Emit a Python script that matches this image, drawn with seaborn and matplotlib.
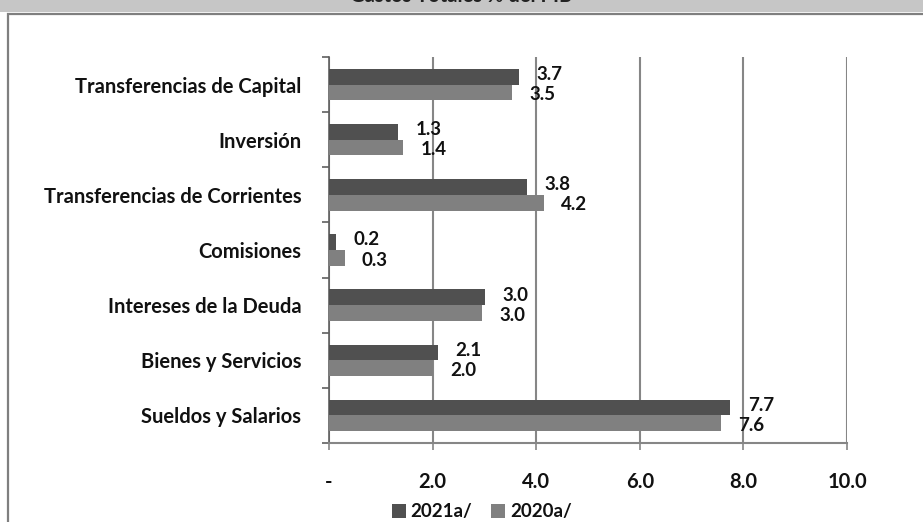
import matplotlib
matplotlib.use("Agg")
import matplotlib.pyplot as plt
import seaborn as sns
import pandas as pd
from matplotlib.patches import Rectangle

categories = ["Transferencias de Capital", "Inversión", "Transferencias de Corrientes",
              "Comisiones", "Intereses de la Deuda", "Bienes y Servicios", "Sueldos y Salarios"]
series_names = ["2021a/", "2020a/"]
values_2021 = [3.67, 1.33, 3.83, 0.14, 3.02, 2.10, 7.75]
values_2020 = [3.54, 1.43, 4.15, 0.30, 2.95, 2.01, 7.56]
labels_2021 = ["3.7", "1.3", "3.8", "0.2", "3.0", "2.1", "7.7"]
labels_2020 = ["3.5", "1.4", "4.2", "0.3", "3.0", "2.0", "7.6"]
x_ticks = [0, 2, 4, 6, 8, 10]
x_tick_labels = ["-", "2.0", "4.0", "6.0", "8.0", "10.0"]
title = "Gastos Totales % del PIB"

df = pd.DataFrame({
    "categoria": categories * 2,
    "serie": [series_names[0]] * len(categories) + [series_names[1]] * len(categories),
    "valor": values_2021 + values_2020,
})

sns.set_theme(style="white")
FONT = ["Lato", "DejaVu Sans"]
plt.rcParams["font.family"] = FONT
FS = 14.5

W, H = 923, 522
fig = plt.figure(figsize=(W / 100, H / 100), dpi=100)
fig.patch.set_facecolor("white")

# Title bar (title text is cut by the top edge, as in the source) and frame
fig.patches.append(Rectangle((0, 1 - 12 / H), 1, 12 / H, transform=fig.transFigure,
                             facecolor="#c6c6c6", edgecolor="none", zorder=0))
fig.text(0.5, 1 + 4 / H, title, ha="center", va="center", fontsize=FS, fontweight="bold",
         color="#222222")
fig.patches.append(Rectangle((8 / W, -0.1), 1.2, 1.1 - 14 / H, transform=fig.transFigure,
                             facecolor="none", edgecolor="#7f7f7f", linewidth=1.6, zorder=1))

ax = fig.add_axes([329 / W, 1 - 443 / H, (847 - 329) / W, (443 - 57) / H])
palette = {series_names[0]: "#505050", series_names[1]: "#808080"}
sns.barplot(data=df, y="categoria", x="valor", hue="serie", order=categories,
            hue_order=series_names, palette=palette, orient="h", width=0.57,
            saturation=1, ax=ax, zorder=3, edgecolor="none")

ax.set_xlim(0, 10)
ax.set_xticks(x_ticks)
ax.set_xticklabels(x_tick_labels, fontsize=FS, fontweight="bold", color="#111111")
ax.set_xlabel("")
ax.set_ylabel("")
ax.grid(axis="x", color="#868686", linewidth=1.5, zorder=0)
ax.grid(axis="y", visible=False)
for s in ["top", "right"]:
    ax.spines[s].set_visible(False)
ax.spines["left"].set_color("#606060")
ax.spines["left"].set_linewidth(1.2)
ax.spines["bottom"].set_color("#868686")
ax.spines["bottom"].set_linewidth(1.5)
ax.tick_params(axis="x", length=5, width=1.2, color="#868686", pad=16, direction="out",
               bottom=True)
ax.set_yticks(range(len(categories)))
ax.set_yticklabels(categories, fontsize=FS, fontweight="bold", color="#111111")
ax.tick_params(axis="y", length=0, pad=20)
ax.set_yticks([i - 0.5 for i in range(len(categories) + 1)], minor=True)
ax.tick_params(axis="y", which="minor", length=5, width=1.2, color="#606060", left=True)
ax.set_ylim(len(categories) - 0.5, -0.5)

# data labels (2021 nudged up, 2020 nudged down so they do not collide)
for cont, labs, dy in zip(ax.containers, [labels_2021, labels_2020], [1.6, -1.6]):
    for bar, lab in zip(cont, labs):
        ax.annotate(lab, xy=(bar.get_width(), bar.get_y() + bar.get_height() / 2),
                    xytext=(12.5, dy), textcoords="offset points", ha="left", va="center",
                    fontsize=13.5, fontweight="bold", color="#111111", zorder=5)

leg = ax.legend(loc="center", bbox_to_anchor=(0.295, (443 - 512) / (443 - 57)),
                ncol=2, frameon=False, handlelength=0.75, handleheight=0.75,
                handletextpad=0.25, columnspacing=1.0, prop={"weight": "bold", "size": 13.5})
for t in leg.get_texts():
    t.set_fontweight("bold")
    t.set_color("#111111")

fig.savefig("out.png", dpi=100)
